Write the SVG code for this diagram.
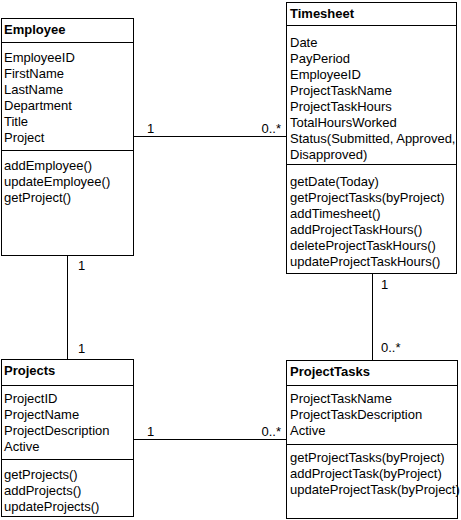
<svg xmlns="http://www.w3.org/2000/svg" width="461" height="520" viewBox="0 0 461 520">
<style>
text{font-family:"Liberation Sans",Arial,sans-serif;font-size:13px;fill:#000}
.t{font-weight:bold}
.box{fill:#fff;stroke:#000;stroke-width:1}
.sep{stroke:#000;stroke-width:1}
.c{stroke:#000;stroke-width:1;fill:none}
</style>
<rect width="461" height="520" fill="#fff"/>
<g id="connectors">
<line class="c" x1="133.5" y1="136.5" x2="286.5" y2="136.5"/>
<text x="147" y="133">1</text>
<text x="281" y="133" text-anchor="end">0..*</text>
<line class="c" x1="67.5" y1="255.5" x2="67.5" y2="359.5"/>
<text x="78" y="270">1</text>
<text x="78" y="353">1</text>
<line class="c" x1="372.5" y1="273.5" x2="372.5" y2="360.5"/>
<text x="381" y="289">1</text>
<text x="381" y="352">0..*</text>
<line class="c" x1="133.5" y1="439.5" x2="286.5" y2="439.5"/>
<text x="147" y="436">1</text>
<text x="281" y="436" text-anchor="end">0..*</text>
</g>
<g id="employee">
<rect class="box" x="1.5" y="18.5" width="132" height="237"/>
<line class="sep" x1="1.5" y1="42.5" x2="133.5" y2="42.5"/>
<line class="sep" x1="1.5" y1="150.5" x2="133.5" y2="150.5"/>
<text class="t" x="4" y="34">Employee</text>
<text x="4" y="62">EmployeeID</text>
<text x="4" y="78">FirstName</text>
<text x="4" y="94">LastName</text>
<text x="4" y="110">Department</text>
<text x="4" y="126">Title</text>
<text x="4" y="142">Project</text>
<text x="4" y="170">addEmployee()</text>
<text x="4" y="186">updateEmployee()</text>
<text x="4" y="202">getProject()</text>
</g>
<g id="timesheet">
<rect class="box" x="286.5" y="2.5" width="170" height="271"/>
<line class="sep" x1="286.5" y1="25.5" x2="456.5" y2="25.5"/>
<line class="sep" x1="286.5" y1="164.5" x2="456.5" y2="164.5"/>
<text class="t" x="290" y="18">Timesheet</text>
<text x="290" y="47">Date</text>
<text x="290" y="63">PayPeriod</text>
<text x="290" y="79">EmployeeID</text>
<text x="290" y="95">ProjectTaskName</text>
<text x="290" y="111">ProjectTaskHours</text>
<text x="290" y="127">TotalHoursWorked</text>
<text x="290" y="143">Status(Submitted, Approved,</text>
<text x="290" y="159">Disapproved)</text>
<text x="290" y="186">getDate(Today)</text>
<text x="290" y="202">getProjectTasks(byProject)</text>
<text x="290" y="218">addTimesheet()</text>
<text x="290" y="234">addProjectTaskHours()</text>
<text x="290" y="250">deleteProjectTaskHours()</text>
<text x="290" y="266">updateProjectTaskHours()</text>
</g>
<g id="projects">
<rect class="box" x="1.5" y="359.5" width="132" height="157"/>
<line class="sep" x1="1.5" y1="385.5" x2="133.5" y2="385.5"/>
<line class="sep" x1="1.5" y1="459.5" x2="133.5" y2="459.5"/>
<text class="t" x="4" y="375">Projects</text>
<text x="4" y="403">ProjectID</text>
<text x="4" y="419">ProjectName</text>
<text x="4" y="435">ProjectDescription</text>
<text x="4" y="451">Active</text>
<text x="4" y="479">getProjects()</text>
<text x="4" y="495">addProjects()</text>
<text x="4" y="511">updateProjects()</text>
</g>
<g id="projecttasks">
<rect class="box" x="286.5" y="360.5" width="171" height="158"/>
<line class="sep" x1="286.5" y1="385.5" x2="457.5" y2="385.5"/>
<line class="sep" x1="286.5" y1="444.5" x2="457.5" y2="444.5"/>
<text class="t" x="290" y="376">ProjectTasks</text>
<text x="290" y="403">ProjectTaskName</text>
<text x="290" y="419">ProjectTaskDescription</text>
<text x="290" y="435">Active</text>
<text x="290" y="462">getProjectTasks(byProject)</text>
<text x="290" y="478">addProjectTask(byProject)</text>
<text x="290" y="494">updateProjectTask(byProject)</text>
</g>
</svg>
